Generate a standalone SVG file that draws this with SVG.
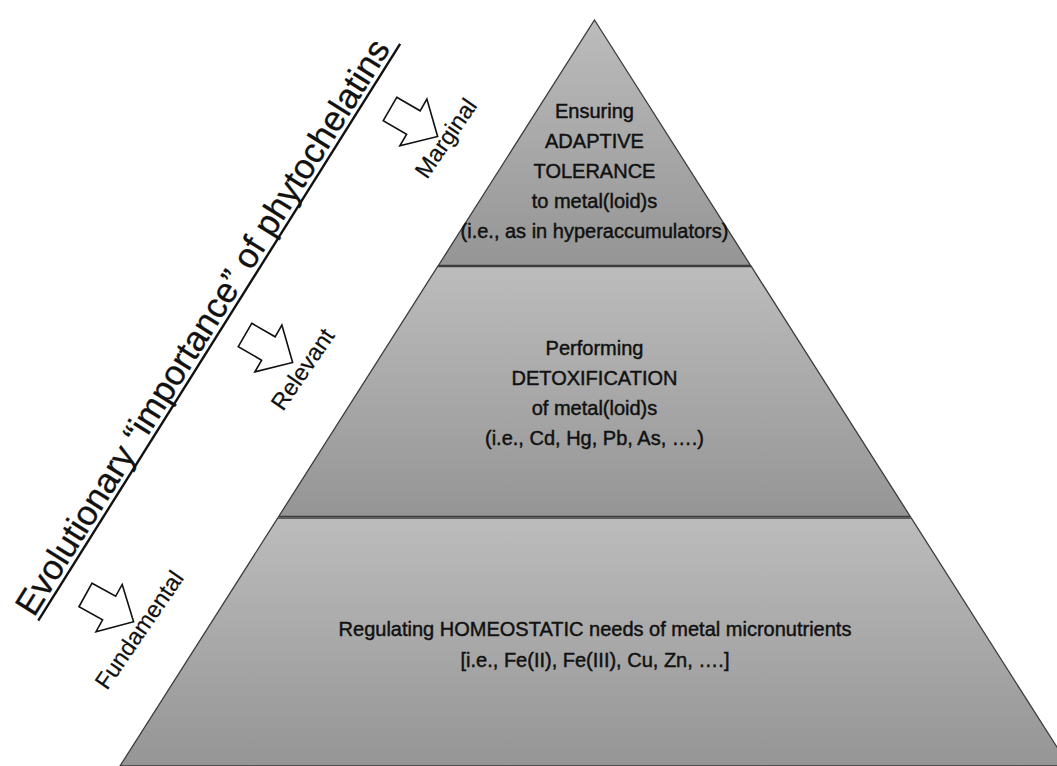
<svg xmlns="http://www.w3.org/2000/svg" width="1057" height="766" viewBox="0 0 1057 766">
<style>
.band{stroke:#3c3c3c;stroke-width:1.3;fill:url(#g)}
.t{font-family:"Liberation Sans",Arial,sans-serif;font-size:20px;fill:#111;stroke:#111;stroke-width:0.45;text-anchor:middle}
.lbl{font-family:"Liberation Sans",Arial,sans-serif;font-size:23.5px;fill:#111;stroke:#111;stroke-width:0.2}
.arr{fill:#fff;stroke:#111;stroke-width:1.6;stroke-linejoin:miter}
</style>
<defs>
<linearGradient id="g" x1="0" y1="0" x2="0" y2="1">
<stop offset="0" stop-color="#bcbcbc"/>
<stop offset="1" stop-color="#959595"/>
</linearGradient>
<path id="arrow" d="M0,-13.5 L27,-13.5 L27,-27 L55,0 L27,27 L27,13.5 L0,13.5 Z"/>
</defs>
<rect width="1057" height="766" fill="#fff"/>
<g id="band-top">
<polygon class="band" points="594.5,20 750.6,265.5 438.4,265.5"/>
<text class="t" x="594.5" y="118">Ensuring</text>
<text class="t" x="594.5" y="148">ADAPTIVE</text>
<text class="t" x="594.5" y="178">TOLERANCE</text>
<text class="t" x="594.5" y="208">to metal(loid)s</text>
<text class="t" x="594.5" y="238">(i.e., as in hyperaccumulators)</text>
</g>
<g id="band-middle">
<polygon class="band" points="437.7,266.5 751.3,266.5 910.3,516.5 278.7,516.5"/>
<text class="t" x="594.5" y="355">Performing</text>
<text class="t" x="594.5" y="385">DETOXIFICATION</text>
<text class="t" x="594.5" y="415">of metal(loid)s</text>
<text class="t" x="594.5" y="445">(i.e., Cd, Hg, Pb, As, ….)</text>
</g>
<g id="band-bottom">
<polygon class="band" points="277.8,518 911.2,518 1069,766 120,766"/>
<text class="t" x="595" y="636">Regulating HOMEOSTATIC needs of metal micronutrients</text>
<text class="t" x="595" y="667">[i.e., Fe(II), Fe(III), Cu, Zn, ….]</text>
</g>
<g id="title" transform="translate(34,618) rotate(-57.9)">
<text font-family="Liberation Sans, Arial, sans-serif" font-size="35" fill="#111" stroke="#111" stroke-width="0.3" textLength="672" lengthAdjust="spacingAndGlyphs">Evolutionary “importance” of phytochelatins</text>
<line x1="0" y1="5" x2="681" y2="5" stroke="#111" stroke-width="2.4"/>
</g>
<g id="labels">
<g id="marginal"><text class="lbl" transform="translate(427,180) rotate(-55.5)">Marginal</text></g>
<g id="relevant"><text class="lbl" transform="translate(283,412) rotate(-55.5)">Relevant</text></g>
<g id="fundamental"><text class="lbl" transform="translate(107,691) rotate(-55.5)">Fundamental</text></g>
</g>
<g id="connectors">
<use href="#arrow" class="arr" transform="translate(390,109) rotate(30)"/>
<use href="#arrow" class="arr" transform="translate(245,335) rotate(30)"/>
<use href="#arrow" class="arr" transform="translate(85.5,595) rotate(29)"/>
</g>
</svg>
